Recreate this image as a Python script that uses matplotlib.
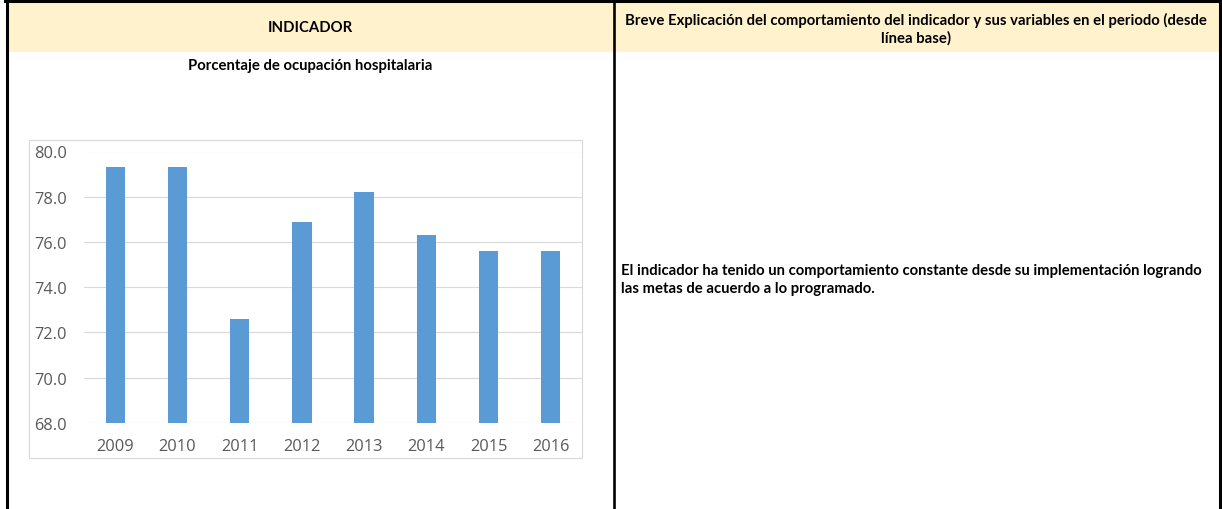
import matplotlib
matplotlib.use("Agg")
import matplotlib.pyplot as plt
from matplotlib.patches import Rectangle
from matplotlib.lines import Line2D
from matplotlib.ticker import FormatStrFormatter

years = ["2009", "2010", "2011", "2012", "2013", "2014", "2015", "2016"]
ocupacion = [79.3, 79.3, 72.6, 76.9, 78.2, 76.3, 75.6, 75.6]
yticks = [68, 70, 72, 74, 76, 78, 80]

header_left = "INDICADOR"
header_right = "Breve Explicación del comportamiento del indicador y sus variables en el periodo (desde\nlínea base)"
chart_title = "Porcentaje de ocupación hospitalaria"
comment = "El indicador ha tenido un comportamiento constante desde su implementación logrando\nlas metas de acuerdo a lo programado."

W, H = 1222, 510
BOLD = ["Lato", "DejaVu Sans"]
TICKF = ["Open Sans", "DejaVu Sans"]

fig = plt.figure(figsize=(W / 100, H / 100), dpi=100)

def fx(x):
    return x / W

def fy(y):
    return 1 - y / H

# header band and cell borders
fig.add_artist(Rectangle((fx(6), fy(53)), fx(1220) - fx(6), fy(3) - fy(53),
                         transform=fig.transFigure, facecolor="#FFF2CC", edgecolor="none", zorder=0))
for xs, ys, lw in [([5, 1222], [2, 2], 2.2),
                   ([6.5, 6.5], [0, 510], 2.2),
                   ([1220, 1220], [0, 510], 2.2),
                   ([613.5, 613.5], [0, 510], 1.9)]:
    fig.add_artist(Line2D([fx(v) for v in xs], [fy(v) for v in ys], transform=fig.transFigure,
                          color="black", lw=lw, zorder=5))

# chart frame
fig.add_artist(Rectangle((fx(29), fy(459)), fx(581.5) - fx(29), fy(141) - fy(459),
                         transform=fig.transFigure, facecolor="none", edgecolor="#D9D9D9", lw=0.8, zorder=1))

fs = 10.75
fig.text(fx(310), fy(28), header_left, ha="center", va="center", fontsize=fs, fontweight="bold", family=BOLD)
fig.text(fx(916), fy(29), header_right, ha="center", va="center", fontsize=fs, fontweight="bold",
         family=BOLD, linespacing=1.25)
fig.text(fx(310), fy(66), chart_title, ha="center", va="center", fontsize=fs, fontweight="bold", family=BOLD)
fig.text(fx(621), fy(280), comment, ha="left", va="center", fontsize=fs, fontweight="bold",
         family=BOLD, linespacing=1.3)

ax = fig.add_axes([fx(84.2), fy(424), fx(581.8) - fx(84.2), fy(152.5) - fy(424)])
ax.bar(range(len(years)), ocupacion, width=0.31, color="#5B9BD5", zorder=2)
ax.set_xlim(-0.5, len(years) - 0.5)
ax.set_ylim(68, 80)
ax.set_yticks(yticks)
ax.yaxis.set_major_formatter(FormatStrFormatter("%.1f"))
ax.set_xticks(range(len(years)))
ax.set_xticklabels(years)
ax.grid(axis="y", color="#D9D9D9", lw=0.8, zorder=0)
ax.set_axisbelow(True)
for s in ax.spines.values():
    s.set_visible(False)
ax.tick_params(axis="both", length=0, labelsize=11.8, labelcolor="#595959")
ax.tick_params(axis="y", pad=12.5)
ax.tick_params(axis="x", pad=11)
for lab in ax.get_xticklabels() + ax.get_yticklabels():
    lab.set_family(TICKF)
ax.patch.set_alpha(0)

fig.savefig("out.png", dpi=100)
